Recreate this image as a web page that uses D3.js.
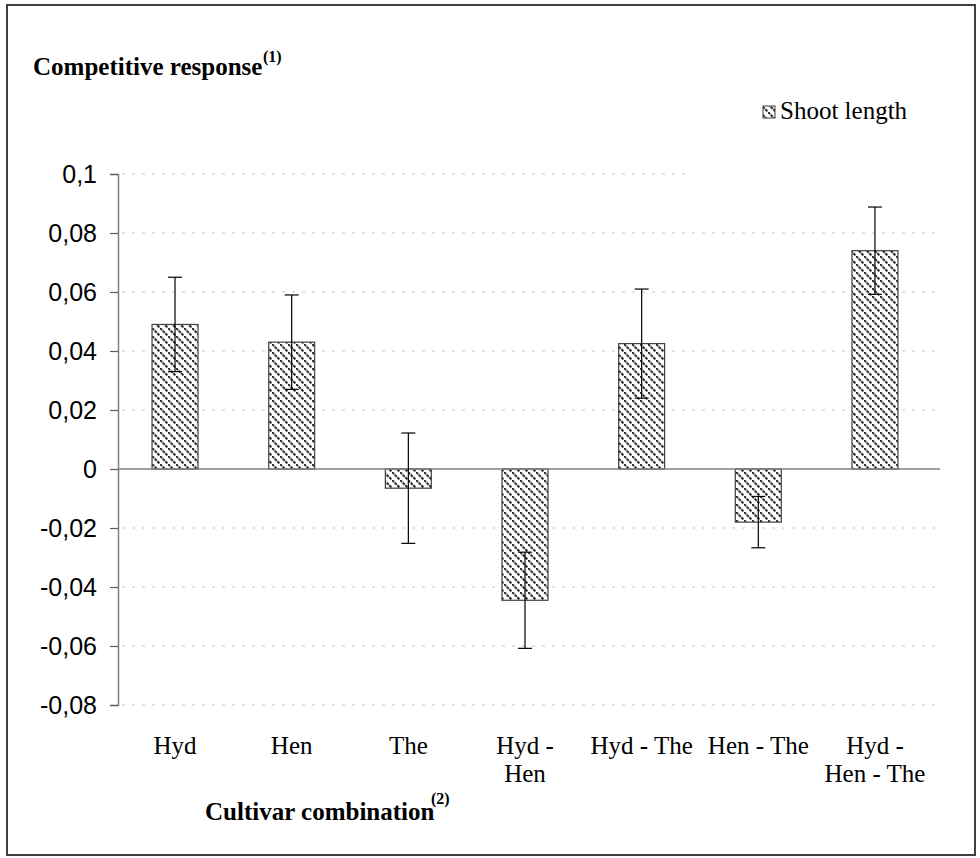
<!DOCTYPE html>
<html>
<head>
<meta charset="utf-8">
<script src="https://cdn.jsdelivr.net/npm/d3@7"></script>
<style>
    body { margin: 0; background: #fff; }
    svg { display: block; }
    .tick-label { font-family: "Liberation Sans", Arial, sans-serif; font-size: 25px; fill: #000; }
    .cat-label { font-family: "Liberation Serif", "Times New Roman", serif; font-size: 25px; fill: #000; }
    .title { font-family: "Liberation Serif", "Times New Roman", serif; font-size: 25px; font-weight: bold; fill: #000; }
    .sup { font-family: "Liberation Serif", "Times New Roman", serif; font-size: 16px; font-weight: bold; fill: #000; }
</style>
</head>
<body>
<svg id="chart" width="980" height="858"></svg>
<script>
// categories (line breaks as in the original axis labels)
const categories = ['Hyd', 'Hen', 'The', 'Hyd - Hen', 'Hyd - The', 'Hen - The', 'Hyd - Hen - The'];
const categoryLines = [['Hyd'], ['Hen'], ['The'], ['Hyd -', 'Hen'], ['Hyd - The'], ['Hen - The'], ['Hyd -', 'Hen - The']];
// shoot length competitive response and its error
const shootLength = [0.049, 0.043, -0.0065, -0.0445, 0.0425, -0.018, 0.074];
const shootError = [0.016, 0.016, 0.0187, 0.0163, 0.0185, 0.0087, 0.0148];
const yTicks = [-0.08, -0.06, -0.04, -0.02, 0, 0.02, 0.04, 0.06, 0.08, 0.1];

const svg = d3.select('#chart');

// outer frame
svg.append('rect')
    .attr('x', 7).attr('y', 5)
    .attr('width', 968).attr('height', 850)
    .attr('fill', 'none')
    .attr('stroke', '#404040')
    .attr('stroke-width', 2);

// hatch pattern for the bars
const defs = svg.append('defs');
const pattern = defs.append('pattern')
    .attr('id', 'hatch')
    .attr('patternUnits', 'userSpaceOnUse')
    .attr('width', 8).attr('height', 8);
pattern.append('rect').attr('width', 8).attr('height', 8).attr('fill', '#fff');
pattern.append('path')
    .attr('d', 'M0,0 L8,8')
    .attr('stroke', '#2a2a2a')
    .attr('stroke-width', 2)
    .attr('stroke-dasharray', '2.9,0.87');

const x = d3.scaleBand()
    .domain(categories)
    .range([116.7, 933.3])
    .paddingInner(0.606)
    .paddingOuter(0.303);

const y = d3.scaleLinear()
    .domain([-0.08, 0.1])
    .range([705, 174]);

// Excel style: comma decimal, plain hyphen for negatives
const fmt = d => String(+d.toFixed(2)).replace('.', ',');

// gridlines (top one is shorter in the original)
svg.append('g').selectAll('line')
    .data(yTicks.filter(d => d !== 0))
    .enter().append('line')
        .attr('x1', 122)
        .attr('x2', d => d === 0.1 ? 690 : 936)
        .attr('y1', d => y(d)).attr('y2', d => y(d))
        .attr('stroke', '#c4c4c4')
        .attr('stroke-width', 1)
        .attr('stroke-dasharray', '3,7');

// y axis
const yAxis = svg.append('g')
    .attr('transform', 'translate(118,0)')
    .call(d3.axisLeft(y).tickValues(yTicks).tickSize(8).tickPadding(13).tickFormat(fmt));
yAxis.select('.domain').attr('stroke', '#808080').attr('stroke-width', 1.5);
yAxis.selectAll('.tick line').attr('stroke', '#606060').attr('stroke-width', 1.2);
yAxis.selectAll('.tick text').attr('class', 'tick-label').attr('font-size', null).attr('font-family', null);

// bars
svg.append('g').selectAll('rect')
    .data(categories)
    .enter().append('rect')
        .attr('x', d => x(d))
        .attr('width', x.bandwidth())
        .attr('y', (d, i) => y(Math.max(0, shootLength[i])))
        .attr('height', (d, i) => Math.abs(y(shootLength[i]) - y(0)))
        .attr('fill', 'url(#hatch)')
        .attr('stroke', '#404040')
        .attr('stroke-width', 1.2);

// zero line
svg.append('line')
    .attr('x1', 118).attr('x2', 940)
    .attr('y1', y(0)).attr('y2', y(0))
    .attr('stroke', '#808080')
    .attr('stroke-width', 1.5);

// error bars
const err = svg.append('g').selectAll('g')
    .data(categories)
    .enter().append('g')
        .attr('transform', d => 'translate(' + (x(d) + x.bandwidth() / 2) + ',0)');
err.append('line')
    .attr('y1', (d, i) => y(shootLength[i] + shootError[i]))
    .attr('y2', (d, i) => y(shootLength[i] - shootError[i]))
    .attr('stroke', '#000').attr('stroke-width', 1.2);
[1, -1].forEach(s => {
    err.append('line')
        .attr('x1', -7).attr('x2', 7)
        .attr('y1', (d, i) => y(shootLength[i] + s * shootError[i]))
        .attr('y2', (d, i) => y(shootLength[i] + s * shootError[i]))
        .attr('stroke', '#000').attr('stroke-width', 1.2);
});

// category labels
const cat = svg.append('g').selectAll('text')
    .data(categories)
    .enter().append('text')
        .attr('class', 'cat-label')
        .attr('text-anchor', 'middle')
        .attr('y', 754);
cat.selectAll('tspan')
    .data((d, i) => categoryLines[i].map(t => ({ t: t, c: d })))
    .enter().append('tspan')
        .attr('x', d => x(d.c) + x.bandwidth() / 2)
        .attr('dy', (d, i) => i === 0 ? 0 : 28)
        .text(d => d.t);

// titles
svg.append('text').attr('class', 'title').attr('x', 33).attr('y', 75).text('Competitive response');
svg.append('text').attr('class', 'sup').attr('x', 263).attr('y', 62).text('(1)');
svg.append('text').attr('class', 'title').attr('x', 205).attr('y', 820).text('Cultivar combination');
svg.append('text').attr('class', 'sup').attr('x', 431).attr('y', 804).text('(2)');

// legend
svg.append('rect')
    .attr('x', 763).attr('y', 106)
    .attr('width', 12).attr('height', 12)
    .attr('fill', 'url(#hatch)')
    .attr('stroke', '#404040')
    .attr('stroke-width', 1);
svg.append('text')
    .attr('class', 'cat-label')
    .attr('x', 780).attr('y', 119)
    .text('Shoot length');
</script>
</body>
</html>
